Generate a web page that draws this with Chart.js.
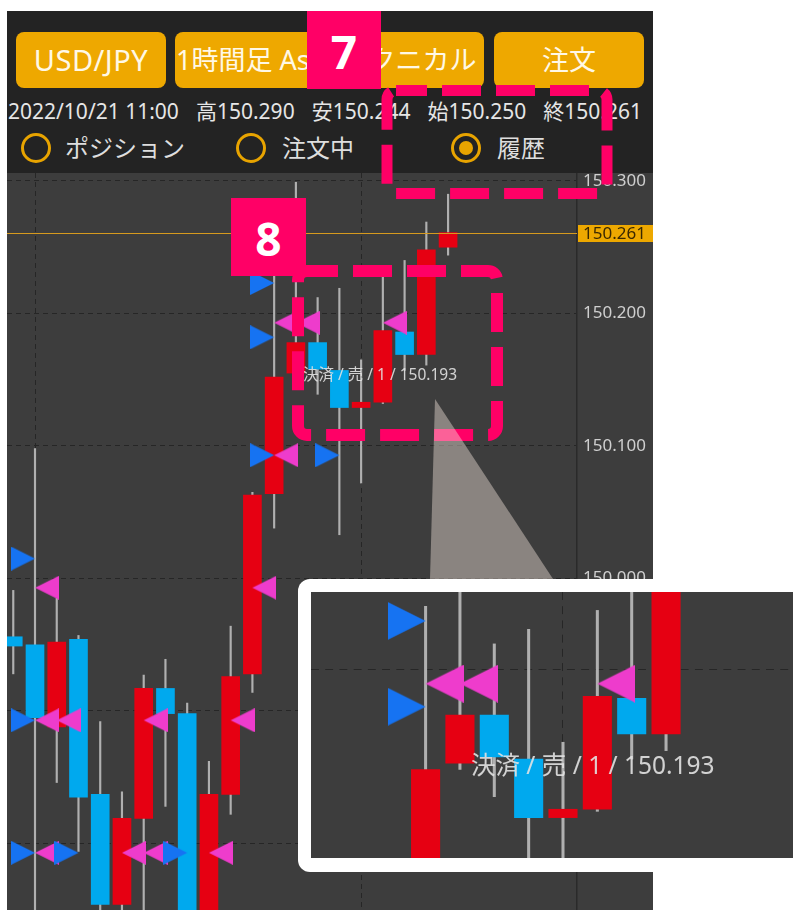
<!DOCTYPE html>
<html lang="ja">
<head>
<meta charset="utf-8">
<title>USD/JPY 1時間足 履歴</title>
<script src="https://cdn.jsdelivr.net/npm/chart.js@4.4.1/dist/chart.umd.min.js"></script>
<style>
  body { margin:0; width:793px; height:910px; background:#fff; position:relative; overflow:hidden;
         font-family:"Noto Sans","Noto Sans CJK JP",sans-serif; }
  .abs { position:absolute; }
  #header { left:7px; top:11px; width:646px; height:162px; background:#232323; }
  .btn { top:32px; width:150px; height:56px; background:#eea800; border-radius:8px; color:#fff8e6;
         font-size:27px; line-height:56px; text-align:center; white-space:nowrap; overflow:hidden; }
  #info { left:8px; top:98px; width:634px; height:26px; display:flex; justify-content:space-between;
          font-size:21px; line-height:26px; color:#e6e6e6; white-space:nowrap; }
  .radio { top:133px; width:24px; height:24px; border:3px solid #e8a400; border-radius:50%; }
  .dot { left:5px; top:5px; width:14px; height:14px; border-radius:50%; background:#e8a400; }
  .rlabel { top:133px; height:30px; line-height:30px; font-size:24px; color:#dedede; white-space:nowrap; }
  #mainBox { left:7px; top:173px; width:646px; height:737px; background:#3d3d3d; }
  #insetFrame { left:298px; top:579px; width:520px; height:293px; background:#fff; border-radius:12px; }
  #insetBox { left:311px; top:592px; width:482px; height:266px; background:#3d3d3d; }
  canvas { display:block; }
</style>
</head>
<body>

<div id="header" class="abs"></div>
<div class="abs btn" style="left:16px;font-size:29px;letter-spacing:0.5px">USD/JPY</div>
<div class="abs btn" style="left:175px">1時間足 Ask</div>
<div class="abs btn" style="left:334px">テクニカル</div>
<div class="abs btn" style="left:494px">注文</div>

<div id="info" class="abs">
  <span>2022/10/21 11:00</span><span>高150.290</span><span>安150.244</span><span>始150.250</span><span>終150.261</span>
</div>

<div class="abs radio" style="left:21px"></div>
<div class="abs rlabel" style="left:65px">ポジション</div>
<div class="abs radio" style="left:236px"></div>
<div class="abs rlabel" style="left:282px">注文中</div>
<div class="abs radio" style="left:451px"><div class="abs dot"></div></div>
<div class="abs rlabel" style="left:497px">履歴</div>

<div id="mainBox" class="abs"><canvas id="main" width="646" height="737"></canvas></div>

<svg class="abs" style="left:0;top:0" width="793" height="910">
  <rect x="387" y="90.5" width="220" height="103" rx="9" fill="none" stroke="#ff0066" stroke-width="11"
        stroke-dasharray="39 15" stroke-dashoffset="8"/>
  <rect x="298" y="271" width="199" height="164" rx="9" fill="none" stroke="#ff0066" stroke-width="12"
        stroke-dasharray="39 15" stroke-dashoffset="8"/>
  <polygon points="435,399 430,579 553,579" fill="rgba(245,232,222,0.42)"/>
  <rect x="307" y="11" width="74" height="78" fill="#ff0066"/>
  <text x="344" y="51" fill="#fff" font-size="46" font-weight="700" text-anchor="middle"
        dominant-baseline="central" font-family="Noto Sans, sans-serif">7</text>
  <rect x="231" y="198" width="75" height="78" fill="#ff0066"/>
  <text x="268.5" y="238" fill="#fff" font-size="46" font-weight="700" text-anchor="middle"
        dominant-baseline="central" font-family="Noto Sans, sans-serif">8</text>
</svg>

<div id="insetFrame" class="abs"></div>
<div id="insetBox" class="abs"><canvas id="inset" width="482" height="266"></canvas></div>

<script>
// 1時間足 (index 0 = 左端の途中で切れている足)
var openP  = [149.956, 149.950, 149.888, 149.954, 149.837, 149.754, 149.819, 149.917, 149.898, 149.720, 149.837,
              149.928, 150.064, 150.155, 150.178, 150.157, 150.129, 150.133, 150.186, 150.169, 150.250];
var highP  = [149.991, 150.098, 149.985, 149.957, 149.892, 149.839, 149.927, 149.939, 149.906, 149.862, 149.964,
              150.065, 150.230, 150.299, 150.212, 150.219, 150.165, 150.228, 150.240, 150.269, 150.290];
var lowP   = [149.928, 149.700, 149.846, 149.794, 149.700, 149.700, 149.700, 149.828, 149.700, 149.700, 149.822,
              149.914, 150.038, 150.152, 150.139, 150.033, 150.072, 150.132, 150.157, 150.161, 150.244];
var closeP = [149.949, 149.895, 149.952, 149.835, 149.754, 149.819, 149.917, 149.898, 149.720, 149.837, 149.926,
              150.063, 150.152, 150.178, 150.158, 150.129, 150.133, 150.187, 150.169, 150.248, 150.261];

// 約定履歴 (買 = 青, 売 = ピンク)
var buyX  = [1, 1, 1, 3, 8, 12, 12, 12, 15];
var buyY  = [150.015, 149.893, 149.793, 149.793, 149.793, 150.223, 150.182, 150.093, 150.093];
var sellX = [1, 11, 1, 2, 6, 10, 1, 5, 6, 9, 12, 13, 17, 12];
var sellY = [149.993, 149.993, 149.893, 149.893, 149.893, 149.893, 149.793, 149.793, 149.793, 149.793,
             150.193, 150.193, 150.193, 150.093];

var priceTicks = [149.8, 149.9, 150.0, 150.1, 150.2, 150.3];
var timeGridAt = [1, 16];

var noteText = '決済 / 売 / 1 / 150.193';
var noteAt = [13, 150.193];

var UP = '#e60012', DOWN = '#00a9ee', BUY = '#1673f2', SELL = '#ee3ccc', WICK = '#b0b0b0', GRID = '#262626';
var FONT = '"Noto Sans", "Noto Sans CJK JP", sans-serif';

function triangle(color, f, dir){
	var w = Math.round(24 * f), h = Math.round(24 * f);
	var c = document.createElement('canvas');
	c.width = w * 2; c.height = h;
	var g = c.getContext('2d');
	g.fillStyle = color;
	g.beginPath();
	if (dir > 0) { g.moveTo(0, 0); g.lineTo(w, h / 2); g.lineTo(0, h); }
	else { g.moveTo(2 * w, 0); g.lineTo(w, h / 2); g.lineTo(2 * w, h); }
	g.closePath();
	g.fill();
	return c;
}

var marks = {
	id: 'marks',
	afterDatasetsDraw: function(chart, args, opts){
		var ctx = chart.ctx, a = chart.chartArea, x = chart.scales.x, y = chart.scales.y, f = opts.f;
		var last = closeP[closeP.length - 1];
		var py = Math.round(y.getPixelForValue(last)) + 0.5;
		ctx.save();
		if (py > a.top && py < a.bottom) {
			ctx.strokeStyle = '#d69a1e';
			ctx.lineWidth = 1.2;
			ctx.beginPath(); ctx.moveTo(a.left, py); ctx.lineTo(a.right, py); ctx.stroke();
			if (opts.tag) {
				ctx.fillStyle = '#eda800';
				ctx.fillRect(a.right + 1, py - 8.5, chart.width - a.right, 17);
				ctx.fillStyle = '#3a2800';
				ctx.font = '17px ' + FONT;
				ctx.textBaseline = 'middle';
				ctx.textAlign = 'left';
				ctx.fillText(last.toFixed(3), a.right + 6, py + 0.5);
			}
		}
		ctx.beginPath(); ctx.rect(a.left, a.top, a.width, a.height); ctx.clip();
		ctx.fillStyle = 'rgba(226,226,226,0.9)';
		ctx.font = (15.5 * f) + 'px ' + FONT;
		ctx.textBaseline = 'middle';
		ctx.textAlign = 'left';
		ctx.fillText(noteText, x.getPixelForValue(noteAt[0]) + 7 * f, y.getPixelForValue(noteAt[1]) + 53 * f);
		ctx.restore();
	}
};

function makeChart(id, view){
	var f = view.f;
	var bodies = openP.map(function(o, i){ return {x: i, y: [o, closeP[i]]}; });
	var wicks = lowP.map(function(l, i){ return {x: i, y: [l, highP[i]]}; });
	var bodyColors = openP.map(function(o, i){ return closeP[i] >= o ? UP : DOWN; });
	var buys = buyX.map(function(v, i){ return {x: v, y: buyY[i]}; });
	var sells = sellX.map(function(v, i){ return {x: v, y: sellY[i]}; });

	return new Chart(document.getElementById(id), {
		type: 'bar',
		data: {
			datasets: [
				{type: 'scatter', label: '買', data: buys, pointStyle: triangle(BUY, f, 1), radius: 12 * f, order: 0},
				{type: 'scatter', label: '売', data: sells, pointStyle: triangle(SELL, f, -1), radius: 12 * f, order: 1},
				{label: '実体', data: bodies, backgroundColor: bodyColors, barThickness: 18 * f, maxBarThickness: 18 * f, grouped: false, order: 2},
				{label: 'ヒゲ', data: wicks, backgroundColor: WICK, barThickness: 1.5 * f, maxBarThickness: 1.5 * f, grouped: false, order: 3}
			]
		},
		options: {
			responsive: false,
			animation: false,
			devicePixelRatio: 1,
			layout: {padding: 0, autoPadding: false},
			plugins: {
				legend: {display: false},
				tooltip: {enabled: false},
				marks: {f: f, tag: view.axis}
			},
			scales: {
				x: {
					type: 'linear', min: view.x0, max: view.x1, offset: false, bounds: 'data',
					grid: {color: GRID, lineWidth: 1, drawTicks: false, offset: false},
					border: {display: false, dash: [5 * f, 4 * f]},
					ticks: {display: false},
					afterBuildTicks: function(s){ s.ticks = timeGridAt.map(function(v){ return {value: v}; }); },
					afterFit: function(s){ s.height = 0; s.paddingLeft = 0; s.paddingRight = 0; }
				},
				y: {
					type: 'linear', position: 'right', min: view.y0, max: view.y1, bounds: 'data',
					grid: {color: GRID, lineWidth: 1, drawTicks: false},
					border: {display: view.axis, color: '#2a2a2a', width: 1.5, dash: [5 * f, 4 * f]},
					ticks: {
						display: view.axis, color: '#cfcfcf', padding: 6,
						font: {family: FONT, size: 17},
						callback: function(v){ return Number(v).toFixed(3); }
					},
					afterBuildTicks: function(s){
						s.ticks = priceTicks.filter(function(v){ return v >= s.min && v <= s.max; })
							.map(function(v){ return {value: v}; });
					},
					afterFit: function(s){ s.width = view.axis ? 76 : 0; s.paddingTop = 0; s.paddingBottom = 0; }
				}
			}
		},
		plugins: [marks]
	});
}

makeChart('main', {f: 1, x0: -0.288, x1: 25.93, y0: 149.7498, y1: 150.3060, axis: true});
makeChart('inset', {f: 1.58, x0: 8.664, x1: 22.696, y0: 150.1097, y1: 150.2368, axis: false});
</script>
</body>
</html>
